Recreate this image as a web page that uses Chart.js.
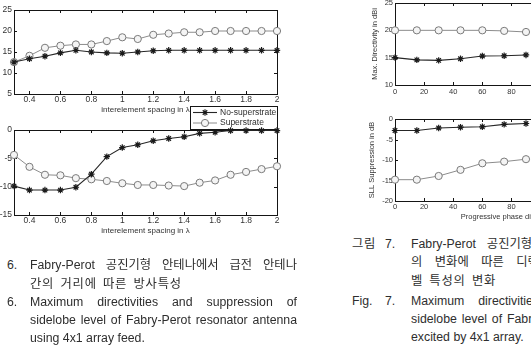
<!DOCTYPE html>
<html>
<head>
<meta charset="utf-8">
<script src="https://cdn.jsdelivr.net/npm/chart.js@4.4.1/dist/chart.umd.min.js"></script>
<style>
  html, body { margin: 0; padding: 0; background: #fff; }
  body { width: 531px; height: 349px; overflow: hidden; position: relative;
         font-family: "Liberation Sans", "Noto Sans CJK KR", sans-serif; color: #2e2e2e; }
  canvas { position: absolute; }
  .cap { position: absolute; font-size: 12.3px; line-height: 18px; height: 18px; white-space: nowrap; }
  .j { width: 267px; text-align: justify; text-align-last: justify; white-space: normal;
       word-break: keep-all; overflow: hidden; }
  .ko { letter-spacing: 0.8px; word-spacing: 2px; }
</style>
</head>
<body>
<canvas id="dirSpacing" width="290" height="132" style="left:0;top:0"></canvas>
<canvas id="sllSpacing" width="290" height="118" style="left:0;top:120px"></canvas>
<canvas id="dirPhase" width="400" height="115" style="left:350px;top:-10px"></canvas>
<canvas id="sllPhase" width="400" height="125" style="left:350px;top:105px"></canvas>

<!-- left caption -->
<div class="cap" style="left:7px;top:256px">6.</div>
<div class="cap j" style="left:30px;top:256px">Fabry-Perot 공진기형 안테나에서 급전 안테나</div>
<div class="cap ko" style="left:30px;top:275px">간의 거리에 따른 방사특성</div>
<div class="cap" style="left:7px;top:293px">6.</div>
<div class="cap j" style="left:30px;top:293px">Maximum directivities and suppression of</div>
<div class="cap j" style="left:30px;top:311px">sidelobe level of Fabry-Perot resonator antenna</div>
<div class="cap" style="left:30px;top:329px">using 4x1 array feed.</div>

<!-- right caption -->
<div class="cap ko" style="left:352px;top:235px">그림</div>
<div class="cap" style="left:385px;top:235px">7.</div>
<div class="cap j" style="left:411px;top:235px">Fabry-Perot 공진기형 안테나에서 급전 위상차</div>
<div class="cap j" style="left:411px;top:253px">의 변화에 따른 디렉티비티와 최대 부엽 레</div>
<div class="cap ko" style="left:411px;top:272px">벨 특성의 변화</div>
<div class="cap" style="left:352px;top:292px">Fig.</div>
<div class="cap" style="left:385px;top:292px">7.</div>
<div class="cap j" style="left:411px;top:292px">Maximum directivities and suppression of</div>
<div class="cap j" style="left:411px;top:310px">sidelobe level of Fabry-Perot resonator antenna</div>
<div class="cap" style="left:411px;top:328px">excited by 4x1 array.</div>

<script>
// interelement spacing (in wavelengths)
const spacing = [0.3, 0.4, 0.5, 0.6, 0.7, 0.8, 0.9, 1.0, 1.1, 1.2, 1.3, 1.4, 1.5, 1.6, 1.7, 1.8, 1.9, 2.0];
const dirNoSup = [12.6, 13.4, 14.0, 14.8, 15.4, 15.0, 14.8, 14.7, 15.0, 15.3, 15.4, 15.4, 15.4, 15.4, 15.4, 15.4, 15.4, 15.4];
const dirSup   = [12.6, 14.1, 16.0, 16.5, 16.8, 16.8, 17.6, 18.5, 18.1, 19.1, 19.4, 19.7, 19.7, 20.0, 20.0, 20.0, 20.0, 20.0];
const sllNoSup = [-9.9, -10.6, -10.6, -10.6, -10.1, -7.8, -4.7, -3.1, -2.6, -1.9, -1.5, -1.2, -0.6, -0.4, -0.1, -0.1, -0.1, -0.1];
const sllSup   = [-4.4, -6.5, -7.9, -8.0, -8.5, -8.7, -9.0, -9.4, -9.7, -9.7, -9.8, -9.9, -9.3, -8.9, -7.9, -7.4, -6.9, -6.4];

// progressive phase difference (degrees)
const phase = [0, 15, 30, 45, 60, 75, 90];
const phDirNoSup = [15.0, 14.6, 14.5, 14.8, 15.3, 15.35, 15.5];
const phDirSup   = [20.0, 20.0, 20.0, 20.0, 20.0, 19.9, 19.7];
const phSllNoSup = [-2.8, -2.8, -2.2, -2.0, -1.9, -1.3, -1.1];
const phSllSup   = [-14.8, -14.8, -13.9, -12.4, -10.8, -10.4, -9.8];

// tick labels
const spacingTicks = [0.4, 0.6, 0.8, 1, 1.2, 1.4, 1.6, 1.8, 2];
const phaseTicks = [0, 20, 40, 60, 80, 100, 120, 140, 160, 180];
const dirTicks = [5, 10, 15, 20, 25];
const sllTicks = [-15, -10, -5, 0];
const phDirTicks = [10, 15, 20, 25];
const phSllTicks = [-20, -15, -10, -5, 0];

const seriesNames = ['No-superstrate', 'Superstrate'];
const FONT = '"Liberation Sans", Arial, sans-serif';

Chart.defaults.font.family = FONT;
Chart.defaults.color = '#333';

function zip(xs, ys) {
  return xs.map((x, i) => ({ x: x, y: ys[i] }));
}

// matlab style box with inward ticks on all four sides
const framePlugin = {
  id: 'frame',
  beforeDatasetsDraw(chart) {
    const ctx = chart.ctx;
    const a = chart.chartArea;
    const xs = chart.scales.x, ys = chart.scales.y;
    const tl = 3;
    ctx.save();
    ctx.strokeStyle = '#151515';
    ctx.lineWidth = 1;
    ctx.strokeRect(Math.round(a.left) + 0.5, Math.round(a.top) + 0.5,
                   Math.round(a.right - a.left), Math.round(a.bottom - a.top));
    ctx.beginPath();
    xs.ticks.forEach(t => {
      const px = Math.round(xs.getPixelForValue(t.value)) + 0.5;
      if (px < a.left + 1 || px > a.right - 1) return;
      ctx.moveTo(px, a.bottom); ctx.lineTo(px, a.bottom - tl);
      ctx.moveTo(px, a.top); ctx.lineTo(px, a.top + tl);
    });
    ys.ticks.forEach(t => {
      const py = Math.round(ys.getPixelForValue(t.value)) + 0.5;
      if (py < a.top + 1 || py > a.bottom - 1) return;
      ctx.moveTo(a.left, py); ctx.lineTo(a.left + tl, py);
      ctx.moveTo(a.right, py); ctx.lineTo(a.right - tl, py);
    });
    ctx.stroke();
    ctx.restore();
  }
};

// boxed legend drawn at a fixed spot (it sits between the two left plots)
const boxLegendPlugin = {
  id: 'boxLegend',
  afterDraw(chart, args, opts) {
    if (!opts || !opts.show) return;
    const ctx = chart.ctx;
    ctx.save();
    ctx.fillStyle = '#fff';
    ctx.fillRect(opts.x, opts.y, opts.w, opts.h);
    ctx.strokeStyle = '#151515';
    ctx.lineWidth = 1;
    ctx.strokeRect(opts.x + 0.5, opts.y + 0.5, opts.w, opts.h);
    chart.data.datasets.forEach((ds, i) => {
      const cy = opts.y + 6.5 + i * 10.5;
      const x0 = opts.x + 3, x1 = opts.x + 27;
      ctx.strokeStyle = ds.borderColor;
      ctx.lineWidth = ds.borderWidth;
      ctx.beginPath(); ctx.moveTo(x0, cy); ctx.lineTo(x1, cy); ctx.stroke();
      ctx.strokeStyle = ds.pointBorderColor;
      ctx.fillStyle = ds.pointBackgroundColor;
      Chart.helpers.drawPoint(ctx, {
        pointStyle: ds.pointStyle, radius: ds.pointRadius, borderWidth: ds.pointBorderWidth
      }, (x0 + x1) / 2, cy);
      ctx.fillStyle = '#2e2e2e';
      ctx.font = '8.5px ' + FONT;
      ctx.textBaseline = 'middle';
      ctx.fillText(ds.label, x1 + 3, cy);
    });
    ctx.restore();
  }
};

function makeChart(id, o) {
  const starSet = {
    label: seriesNames[0], data: zip(o.xs, o.a),
    borderColor: '#262626', borderWidth: 1.1,
    pointStyle: 'star', pointRadius: 3.2, pointBorderColor: '#1a1a1a', pointBorderWidth: 1.2,
    pointBackgroundColor: '#1a1a1a', tension: 0, fill: false, clip: false
  };
  const circSet = {
    label: seriesNames[1], data: zip(o.xs, o.b),
    borderColor: '#8c8c8c', borderWidth: 1,
    pointStyle: 'circle', pointRadius: 3.6, pointBorderColor: '#7a7a7a', pointBorderWidth: 1,
    pointBackgroundColor: '#f4f4f4', tension: 0, fill: false, clip: false
  };
  return new Chart(document.getElementById(id), {
    type: 'line',
    data: { datasets: [starSet, circSet] },
    options: {
      responsive: false,
      animation: false,
      devicePixelRatio: 1,
      layout: { padding: o.pad },
      plugins: {
        legend: { display: false },
        tooltip: { enabled: false },
        boxLegend: o.legend || { show: false }
      },
      scales: {
        x: {
          type: 'linear', min: o.xmin, max: o.xmax,
          grid: { display: false, drawTicks: false }, border: { display: false },
          afterBuildTicks: s => { s.ticks = o.xticks.map(v => ({ value: v })); },
          afterFit: s => { s.height = o.xh; },
          ticks: { font: { size: o.tickSize }, color: '#333', padding: o.xpad,
                   maxRotation: 0, autoSkip: false, callback: v => String(v) },
          title: o.xtitle ? { display: true, text: o.xtitle, color: '#333',
                   font: { size: o.titleSize }, padding: { top: 0, bottom: o.xtpad } } : { display: false }
        },
        y: {
          min: o.ymin, max: o.ymax,
          grid: { display: false, drawTicks: false }, border: { display: false },
          afterBuildTicks: s => { s.ticks = o.yticks.map(v => ({ value: v })); },
          afterFit: s => { s.width = o.yw; },
          ticks: { font: { size: o.tickSize }, color: '#333', padding: 2, callback: v => String(v) },
          title: o.ytitle ? { display: true, text: o.ytitle, color: '#333',
                   font: { size: o.titleSize }, padding: { top: o.ytpad, bottom: 0 } } : { display: false }
        }
      }
    },
    plugins: [framePlugin, boxLegendPlugin]
  });
}

makeChart('dirSpacing', {
  xs: spacing, a: dirNoSup, b: dirSup,
  xmin: 0.3, xmax: 2, ymin: 5, ymax: 25, xticks: spacingTicks, yticks: dirTicks,
  pad: { left: 0, top: 10, right: 13, bottom: 0 }, yw: 14, xh: 38, xpad: 1,
  tickSize: 8.5, titleSize: 8, xtitle: 'interelement spacing in \u03bb', xtpad: 17,
  legend: { show: true, x: 190, y: 106, w: 87, h: 23 }
});

makeChart('sllSpacing', {
  xs: spacing, a: sllNoSup, b: sllSup,
  xmin: 0.3, xmax: 2, ymin: -15, ymax: 0, xticks: spacingTicks, yticks: sllTicks,
  pad: { left: 0, top: 10, right: 13, bottom: 0 }, yw: 14, xh: 23, xpad: 1,
  tickSize: 8.5, titleSize: 8, xtitle: 'interelement spacing in \u03bb', xtpad: 2
});

makeChart('dirPhase', {
  xs: phase, a: phDirNoSup, b: phDirSup,
  xmin: 0, xmax: 180, ymin: 10, ymax: 25, xticks: phaseTicks, yticks: phDirTicks,
  pad: { left: 0, top: 13, right: 93, bottom: 0 }, yw: 45, xh: 20, xpad: 2.5,
  tickSize: 7.5, titleSize: 7.5, ytitle: 'Max. Directivity in dBi', ytpad: 20.5
});

makeChart('sllPhase', {
  xs: phase, a: phSllNoSup, b: phSllSup,
  xmin: 0, xmax: 180, ymin: -20, ymax: 0, xticks: phaseTicks, yticks: phSllTicks,
  pad: { left: 0, top: 14, right: 93, bottom: 0 }, yw: 45, xh: 29, xpad: 1.5,
  tickSize: 7.5, titleSize: 7.5, ytitle: 'SLL Suppression in dB', ytpad: 17.5,
  xtitle: 'Progressive phase difference in degree', xtpad: 8.5
});
</script>
</body>
</html>
